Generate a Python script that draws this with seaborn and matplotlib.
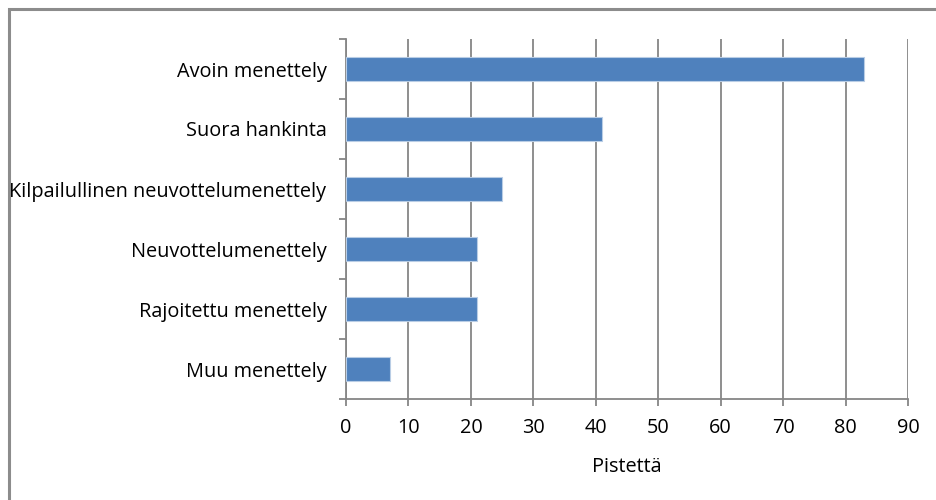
import matplotlib
matplotlib.use("Agg")
import matplotlib.pyplot as plt
from matplotlib.patches import Rectangle
import seaborn as sns
import pandas as pd

categories = [
    "Avoin menettely",
    "Suora hankinta",
    "Kilpailullinen neuvottelumenettely",
    "Neuvottelumenettely",
    "Rajoitettu menettely",
    "Muu menettely",
]
points = [83, 41, 25, 21, 21, 7]
x_ticks = [0, 10, 20, 30, 40, 50, 60, 70, 80, 90]
x_label = "Pistettä"

df = pd.DataFrame({"menettely": categories, "pisteet": points})

sns.set_theme(style="white")
plt.rcParams["font.family"] = ["Open Sans", "DejaVu Sans"]

W, H = 936, 500
FS = 14.3
fig = plt.figure(figsize=(W / 100, H / 100), dpi=100)
ax = fig.add_axes([346 / W, 1 - 399 / H, (908 - 346) / W, (399 - 39) / H])

grid_col = "#868686"
sns.barplot(data=df, x="pisteet", y="menettely", orient="h", width=0.4,
            color="#4F81BD", edgecolor="#B9CDE5", linewidth=0.8,
            saturation=1, ax=ax, zorder=3)

ax.set_xlim(0, 90)
ax.set_ylim(len(categories) - 0.5, -0.5)
ax.set_xticks(x_ticks)
ax.set_xticklabels([str(t) for t in x_ticks])

ax.xaxis.grid(True, color=grid_col, linewidth=1.3, zorder=0)
ax.yaxis.grid(False)
ax.set_axisbelow(True)

for s in ["top", "right"]:
    ax.spines[s].set_visible(False)
for s in ["left", "bottom"]:
    ax.spines[s].set_color(grid_col)
    ax.spines[s].set_linewidth(1.3)

# category ticks sit on the band boundaries
ax.set_yticks([i - 0.5 for i in range(len(categories) + 1)], minor=True)
ax.tick_params(axis="y", which="minor", left=True, length=5, width=1.3, color=grid_col)
ax.tick_params(axis="y", which="major", left=False, length=0, pad=14, labelsize=FS,
               labelcolor="black")
ax.tick_params(axis="x", which="major", bottom=True, length=5, width=1.3, color=grid_col,
               pad=8.5, labelsize=FS, labelcolor="black")

ax.set_ylabel("")
ax.set_xlabel(x_label, fontsize=FS, color="black", labelpad=14)

# chart-area frame
fig.add_artist(Rectangle((8.5 / W, -0.1), 1.2, 1.1 - 9.5 / H, transform=fig.transFigure,
                         fill=False, edgecolor="#8C8C8C", linewidth=2.2))

fig.savefig("out.png", dpi=100)
